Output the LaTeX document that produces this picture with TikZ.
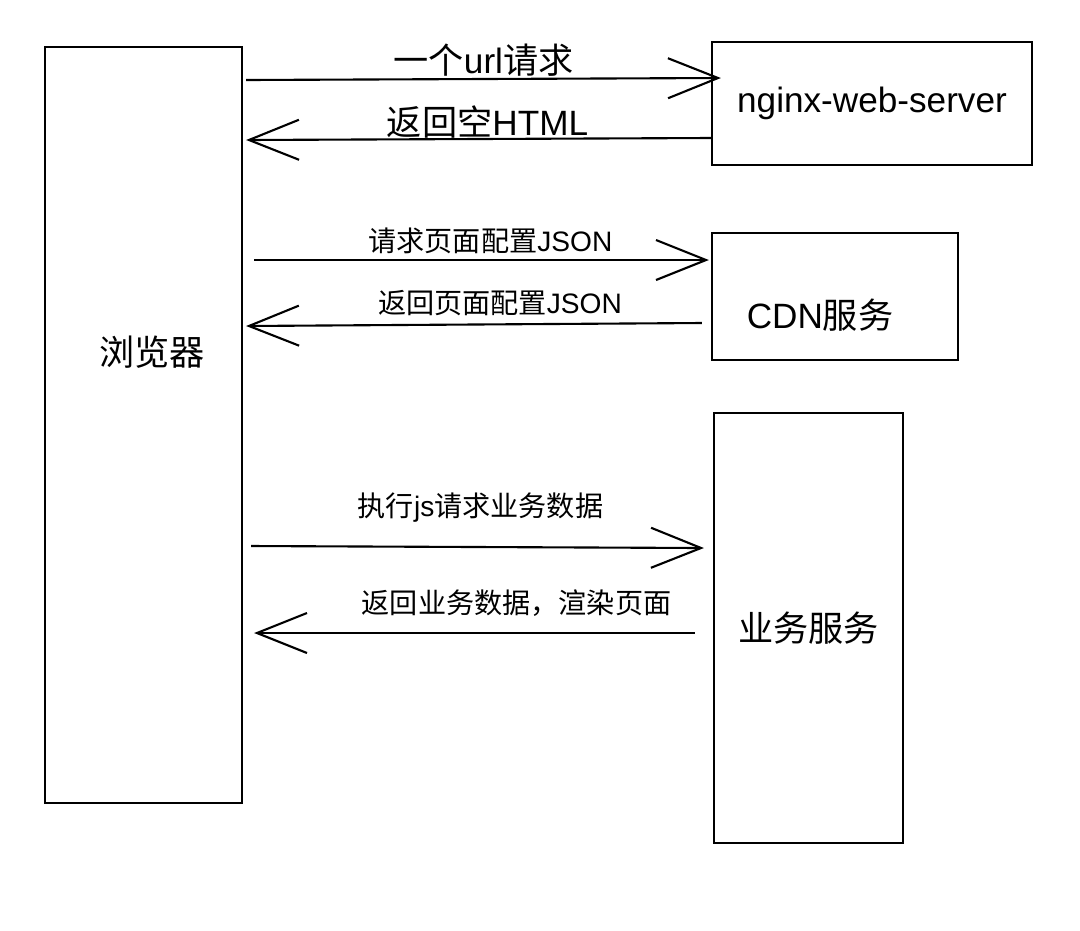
\documentclass[tikz,border=0pt]{standalone}
\usepackage{fontspec}
\setmainfont{Liberation Sans}
\newfontfamily\cjk{Noto Sans CJK SC}
\usepackage{tikz}
\usetikzlibrary{arrows.meta, positioning}

\begin{document}
\begin{tikzpicture}[
    x=0.01cm, y=-0.01cm,
    sysbox/.style={rectangle, draw=black, line width=0.6pt, fill=white, inner sep=0pt},
    msg/.style={-{Straight Barb[length=0.5cm, width=0.4cm, line width=0.6pt]}, line width=0.6pt},
    biglbl/.style={font=\fontsize{10}{12}\selectfont},
    smalllbl/.style={font=\fontsize{8}{10}\selectfont}
]
\useasboundingbox (0,0) rectangle (1080,930);
\node[sysbox, minimum width=1.97cm, minimum height=7.56cm] (browser) at (143.5, 425) {};
\node[biglbl] (browserlbl) at (152, 352) {\cjk 浏览器};
\node[sysbox, minimum width=3.2cm, minimum height=1.23cm, biglbl] (nginx) at (872, 103.5) {nginx-web-server};
\node[sysbox, minimum width=2.46cm, minimum height=1.27cm] (cdn) at (835, 296.5) {};
\node[biglbl] (cdnlbl) at (820, 315) {CDN{\cjk 服务}};
\node[sysbox, minimum width=1.89cm, minimum height=4.3cm, biglbl] (biz) at (808.5, 628) {\cjk 业务服务};
\draw[msg] ([xshift=0.03cm]browser.east |- 0,80) -- ([xshift=0.1cm]nginx.west |- 0,78)
    node[midway, yshift=0.19cm, biglbl] {{\cjk 一个}url{\cjk 请求}};
\draw[msg] (nginx.west |- 0,138) -- ([xshift=0.03cm]browser.east |- 0,140)
    node[midway, yshift=0.17cm, xshift=0.09cm, biglbl] {{\cjk 返回空}HTML};
\draw[msg] ([xshift=0.11cm]browser.east |- 0,260) -- ([xshift=-0.02cm]cdn.west |- 0,260)
    node[midway, yshift=0.19cm, xshift=0.09cm, smalllbl] {{\cjk 请求页面配置}JSON};
\draw[msg] ([xshift=-0.09cm]cdn.west |- 0,323) -- ([xshift=0.03cm]browser.east |- 0,326)
    node[midway, yshift=0.21cm, xshift=0.26cm, smalllbl] {{\cjk 返回页面配置}JSON};
\draw[msg] ([xshift=0.08cm]browser.east |- 0,546) -- ([xshift=-0.09cm]biz.west |- 0,548)
    node[midway, yshift=0.39cm, xshift=0.03cm, smalllbl] {{\cjk 执行}js{\cjk 请求业务数据}};
\draw[msg] ([xshift=-0.18cm]biz.west |- 0,633) -- ([xshift=0.11cm]browser.east |- 0,633)
    node[midway, yshift=0.30cm, xshift=0.42cm, smalllbl] {\cjk 返回业务数据，渲染页面};
\end{tikzpicture}
\end{document}
